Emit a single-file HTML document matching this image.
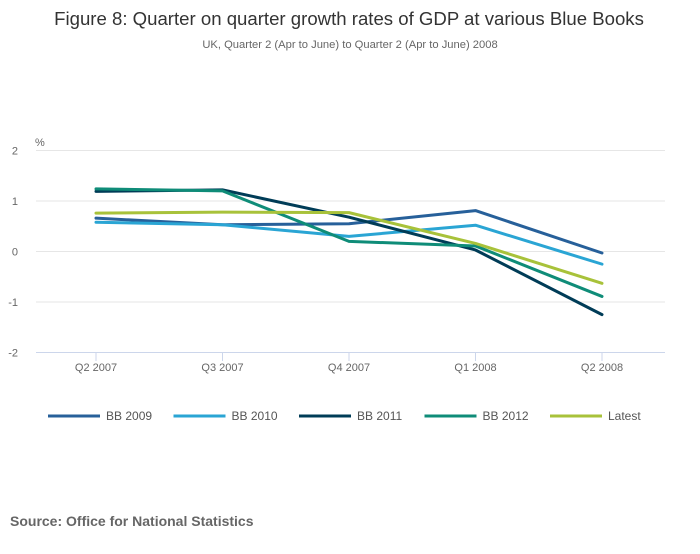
<!DOCTYPE html>
<html><head><meta charset="utf-8"><style>
body{margin:0;background:#fff;font-family:"Liberation Sans",sans-serif}
</style></head><body>
<svg id="c" width="700" height="549" xmlns="http://www.w3.org/2000/svg">
<text x="349" y="25" text-anchor="middle" font-size="18.6" fill="#333">Figure 8: Quarter on quarter growth rates of GDP at various Blue Books</text>
<text x="350" y="48" text-anchor="middle" font-size="11.2" fill="#666">UK, Quarter 2 (Apr to June) to Quarter 2 (Apr to June) 2008</text>
<text x="35" y="146" font-size="11" fill="#666">%</text>
<g id="grid"></g><g id="lines"></g><g id="legend"></g>
<text x="10" y="526" font-size="14" font-weight="bold" fill="#666">Source: Office for National Statistics</text>
</svg>
<script>
const categories=["Q2 2007","Q3 2007","Q4 2007","Q1 2008","Q2 2008"];
const yTicks=[2,1,0,-1,-2];
const seriesNames=["BB 2009","BB 2010","BB 2011","BB 2012","Latest"];
const bb2009=[0.66,0.53,0.55,0.81,-0.03];
const bb2010=[0.58,0.53,0.30,0.52,-0.25];
const bb2011=[1.19,1.22,0.68,0.03,-1.25];
const bb2012=[1.24,1.20,0.20,0.11,-0.89];
const latest=[0.76,0.78,0.77,0.16,-0.63];
const colors=["#27609a","#2aa5d4","#003c57","#0f8c78","#a8c23a"];
const all=[bb2009,bb2010,bb2011,bb2012,latest];
const NS="http://www.w3.org/2000/svg";
const x=i=>96+i*126.5, y=v=>251.5-v*50.5;
function mk(t,a,p){const e=document.createElementNS(NS,t);for(const k in a)e.setAttribute(k,a[k]);p.appendChild(e);return e;}
const g=document.getElementById('grid');
yTicks.forEach(v=>{
 const l=mk('line',{x1:36,x2:665,y1:y(v),y2:y(v),stroke:v==-2?'#ccd6eb':'#e6e6e6','stroke-width':1},g);
 
 
 const t=mk('text',{x:18,y:y(v)+4,'text-anchor':'end','font-size':11,fill:'#666'},g);t.textContent=v;
 
 
});
categories.forEach((c,i)=>{
 const l=mk('line',{x1:x(i),x2:x(i),y1:352,y2:361,stroke:'#ccd6eb'},g);
 
 
 const t=mk('text',{x:x(i),y:371,'text-anchor':'middle','font-size':11,fill:'#666'},g);t.textContent=c;
 
 
});
const L=document.getElementById('lines'), G=document.getElementById('legend');
all.forEach((s,k)=>{
 const p=mk('polyline',{points:s.map((v,i)=>x(i)+','+y(v)).join(' '),fill:'none',stroke:colors[k],'stroke-width':3,'stroke-linejoin':'round','stroke-linecap':'round'},L);
 
 
 const lx=48+k*125.5;
 const e=mk('g',{},G);
 
 
 mk('line',{x1:lx,x2:lx+52,y1:416,y2:416,stroke:colors[k],'stroke-width':3},e);
 const t=mk('text',{x:lx+58,y:420,'font-size':12,fill:'#555'},e);t.textContent=seriesNames[k];
});
</script>
</body></html>
